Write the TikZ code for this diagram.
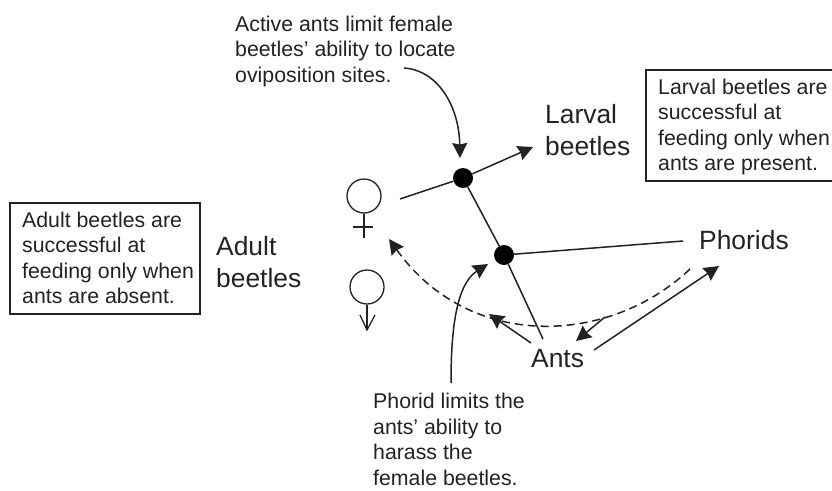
\documentclass[tikz,border=0pt]{standalone}
\usepackage{fontspec}
\setmainfont{Liberation Sans}
\usetikzlibrary{arrows.meta}
\definecolor{ink}{HTML}{222222}
\tikzset{
  x=1pt,y=-1pt,
  wire/.style={draw=ink,line width=1.5pt},
  arrowline/.style={wire,-{Stealth[length=15pt,width=15pt,inset=1.5pt]}},
  dashline/.style={arrowline,dash pattern=on 8pt off 5pt},
  dotnode/.style={circle,fill=black,inner sep=0pt,minimum size=20pt},
  big/.style={font=\fontsize{26.4}{32}\selectfont,align=left,text=ink,inner sep=0pt},
  small/.style={font=\fontsize{21.3}{25.5}\selectfont,align=left,text=ink,inner sep=0pt},
  boxline/.style={draw=ink,line width=1.3pt},
  sym/.style={draw=ink,line width=1.3pt},
}
\begin{document}
\begin{tikzpicture}
\useasboundingbox (0,0) rectangle (832,490);
% text
\node[small,anchor=north west] (t1) at (235,15.5) {Active ants limit female\\beetles' ability to locate\\oviposition sites.};
\node[small,anchor=north west] (t2) at (373,393) {Phorid limits the\\ants' ability to\\harass the\\female beetles.};
\node[big,anchor=north west] (larval) at (545,104) {Larval\\beetles};
\node[big,anchor=north west] (adult) at (216,236) {Adult\\beetles};
\node[big,anchor=base west] (phorids) at (699,249) {Phorids};
\node[big,anchor=base west] (ants) at (531,367) {Ants};
\draw[boxline] (10,203) rectangle (200,314);
\node[small,anchor=north west] (b1) at (22,211.5) {Adult beetles are\\successful at\\feeding only when\\ants are absent.};
\draw[boxline] (832,70) -- (646,70) -- (646,181) -- (832,181);
\node[small,anchor=north west] (b2) at (658,78.5) {Larval beetles are\\successful at\\feeding only when\\ants are present.};
% dots
\node[dotnode] (d1) at (463,178) {};
\node[dotnode] (d2) at (504,255) {};
\coordinate (fem) at (400,199);
\coordinate (lar) at (533,147);
\coordinate (antend) at (543,339);
\coordinate (phend) at (683,241);
% interaction lines
\draw[wire] (fem) -- (d1);
\draw[arrowline] (d1) -- (lar);
\draw[wire] (d1) -- (d2);
\draw[wire] (d2) -- (antend);
\draw[wire] (d2) -- (phend);
% dashed curve
\coordinate (dsa) at (690,269);
\coordinate (dsb) at (389,239);
\draw[dashline] (dsa) .. controls (610,345) and (470,352) .. (dsb);
% ants arrows
\coordinate (a1) at (531,343);
\coordinate (a2) at (489,314);
\coordinate (a3) at (605,317);
\coordinate (a4) at (576,341);
\coordinate (a5) at (594,350);
\coordinate (a6) at (719,266);
\draw[arrowline] (a1) -- (a2);
\draw[arrowline] (a3) -- (a4);
\draw[arrowline] (a5) -- (a6);
% curved callouts
\coordinate (c1) at (404,68);
\coordinate (c2) at (460,158);
\draw[arrowline] (c1) .. controls (437,70) and (459,105) .. (c2);
\coordinate (c3) at (451,383);
\coordinate (c4) at (488,264);
\draw[arrowline] (c3) .. controls (451,335) and (455,285) .. (c4);
% symbols
\node[circle,sym,minimum size=34pt,inner sep=0pt] (fs) at (364,196) {};
\coordinate (fsb) at (364,238);
\coordinate (fl) at (353,227);
\coordinate (fr) at (373,227);
\draw[sym] (fs) -- (fsb);
\draw[sym] (fl) -- (fr);
\node[circle,sym,minimum size=34pt,inner sep=0pt] (ms) at (367,287) {};
\coordinate (msb) at (367,330);
\coordinate (ml) at (360,315);
\coordinate (mr) at (375,315);
\draw[sym] (ms) -- (msb);
\draw[sym] (ml) -- (msb) -- (mr);
\end{tikzpicture}
\end{document}
